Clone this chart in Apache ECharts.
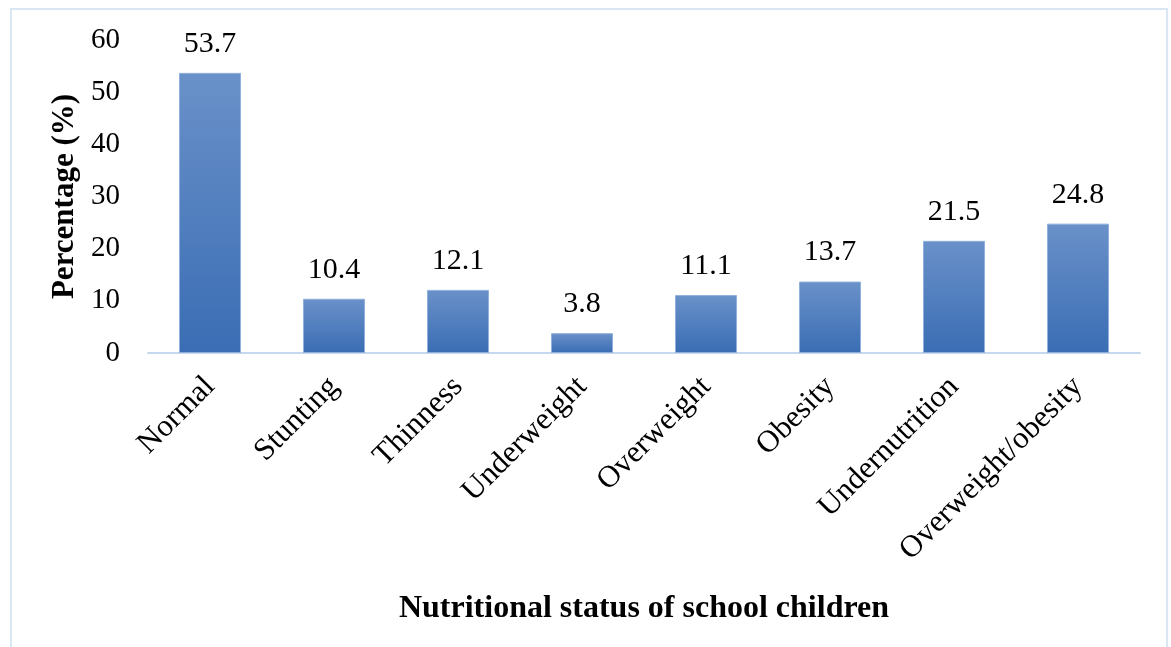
<!DOCTYPE html>
<html>
<head>
<meta charset="utf-8">
<script src="https://cdn.jsdelivr.net/npm/echarts@6/dist/echarts.min.js"></script>
<style>
  html, body { margin: 0; padding: 0; background: #fff; }
  #chart { width: 1171px; height: 647px; }
</style>
</head>
<body>
<div id="chart"></div>
<script>
const categories = ['Normal', 'Stunting', 'Thinness', 'Underweight', 'Overweight', 'Obesity', 'Undernutrition', 'Overweight/obesity']
const percentages = [53.7, 10.4, 12.1, 3.8, 11.1, 13.7, 21.5, 24.8]
const yTicks = { min: 0, max: 60, interval: 10 }

const serif = '"Liberation Serif", "DejaVu Serif", serif'

let chart = echarts.init(document.getElementById('chart'))
let option = {
  backgroundColor: '#fff',
  graphic: [
    {
      type: 'rect',
      shape: { x: 11, y: 9, width: 1156, height: 660 },
      style: { fill: 'none', stroke: '#dbe6f4', lineWidth: 2 },
    },
  ],
  grid: {
    left: 148,
    right: 31,
    top: 40,
    bottom: 294,
  },
  xAxis: {
    type: 'category',
    data: categories,
    axisTick: { show: false },
    axisLine: { lineStyle: { color: '#c6d7ee', width: 2 } },
    axisLabel: {
      rotate: 45,
      interval: 0,
      margin: 29,
      color: '#000',
      fontFamily: serif,
      fontSize: 31,
    },
    name: 'Nutritional status of school children',
    nameLocation: 'middle',
    nameGap: 240,
    nameTextStyle: {
      color: '#000',
      fontFamily: serif,
      fontSize: 32,
      fontWeight: 'bold',
    },
  },
  yAxis: {
    type: 'value',
    min: yTicks.min,
    max: yTicks.max,
    interval: yTicks.interval,
    axisLine: { show: false },
    axisTick: { show: false },
    splitLine: { show: false },
    axisLabel: {
      margin: 28,
      color: '#000',
      fontFamily: serif,
      fontSize: 29,
    },
    name: 'Percentage (%)',
    nameLocation: 'middle',
    nameGap: 67,
    nameTextStyle: {
      color: '#000',
      fontFamily: serif,
      fontSize: 31,
      fontWeight: 'bold',
    },
  },
  series: [
    {
      type: 'bar',
      data: percentages,
      barWidth: '50%',
      itemStyle: {
        color: new echarts.graphic.LinearGradient(0, 0, 0, 1, [
          { offset: 0, color: '#6a91c9' },
          { offset: 1, color: '#3a6db4' },
        ]),
        borderColor: '#8fb0dc',
        borderWidth: 1,
      },
      label: {
        show: true,
        position: 'top',
        distance: 14,
        color: '#000',
        fontFamily: serif,
        fontSize: 30,
        formatter: (p) => p.value.toFixed(1),
      },
    },
  ],
}
chart.setOption(option)
</script>
</body>
</html>
